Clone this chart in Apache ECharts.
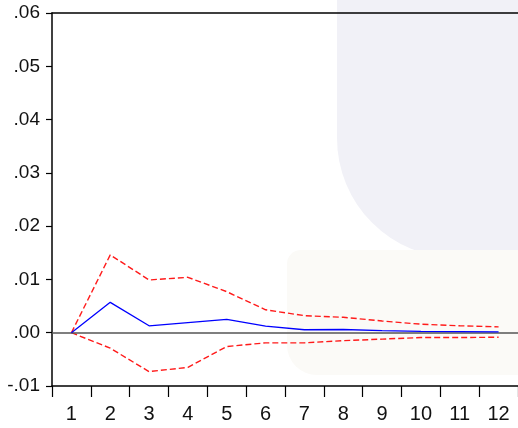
<!DOCTYPE html>
<html>
<head>
<meta charset="utf-8">
<style>
  html, body { margin: 0; padding: 0; background: #ffffff; }
  #chart { width: 518px; height: 428px; }
</style>
<script src="https://cdn.jsdelivr.net/npm/echarts@6/dist/echarts.min.js"></script>
</head>
<body>
<div id="chart"></div>
<script>
// Impulse response over 12 periods with +/- 2 S.E. bands
const periods = ['1', '2', '3', '4', '5', '6', '7', '8', '9', '10', '11', '12'];
const response = [0.0000, 0.0057, 0.0013, 0.0019, 0.0025, 0.00125, 0.00056, 0.0006, 0.0004, 0.00025, 0.0002, 0.00015];
const upperBand = [0.0000, 0.0146, 0.0099, 0.0104, 0.0077, 0.0043, 0.0032, 0.0029, 0.0022, 0.0016, 0.0013, 0.0011];
const lowerBand = [0.0000, -0.0029, -0.0073, -0.0065, -0.0026, -0.0019, -0.0019, -0.0015, -0.0012, -0.0009, -0.0009, -0.00085];
const yTicks = { min: -0.01, max: 0.06, step: 0.01 };

const labelFont = '"Liberation Sans", Arial, sans-serif';

function formatTick(v) {
  const r = Math.round(v * 100) / 100;
  if (r === 0) return '.00';
  const s = Math.abs(r).toFixed(2).replace(/^0/, '');
  return (r < 0 ? '-' : '') + s;
}

function bandSeries(values) {
  return {
    type: 'line',
    data: values,
    symbol: 'none',
    itemStyle: { color: '#ff0000' },
    lineStyle: { color: '#ff1a1a', width: 1.4, type: [6, 3] },
    z: 4
  };
}

const chart = echarts.init(document.getElementById('chart'), null, { renderer: 'canvas' });

chart.setOption({
  animation: false,
  backgroundColor: '#ffffff',
  graphic: [
    {
      type: 'rect', z: -10, silent: true,
      shape: { x: 337, y: 0, width: 200, height: 258, r: [0, 0, 0, 120] },
      style: { fill: '#f1f1f7' }
    },
    {
      type: 'rect', z: -9, silent: true,
      shape: { x: 287, y: 250, width: 260, height: 125, r: [14, 0, 0, 30] },
      style: { fill: '#fbfaf7' }
    }
  ],
  grid: { left: 52, top: 13, width: 468, height: 373, containLabel: false },
  xAxis: [
    {
      type: 'category',
      data: periods,
      boundaryGap: true,
      position: 'bottom',
      axisLine: { show: true, onZero: false, lineStyle: { color: '#000000', width: 1.5 } },
      axisTick: { show: true, inside: false, length: 11, alignWithLabel: false, lineStyle: { color: '#000000', width: 1.2 } },
      axisLabel: { color: '#111111', fontSize: 20, fontFamily: labelFont, margin: 18 },
      splitLine: { show: false }
    },
    {
      type: 'category',
      data: periods,
      position: 'top',
      axisLine: { show: true, onZero: false, lineStyle: { color: '#000000', width: 1.5 } },
      axisTick: { show: false },
      axisLabel: { show: false },
      splitLine: { show: false }
    }
  ],
  yAxis: {
    type: 'value',
    min: yTicks.min,
    max: yTicks.max,
    interval: yTicks.step,
    axisLine: { show: true, onZero: false, lineStyle: { color: '#000000', width: 1.5 } },
    axisTick: { show: true, inside: false, length: 6, lineStyle: { color: '#000000', width: 1.2 } },
    axisLabel: { color: '#111111', fontSize: 19, fontFamily: labelFont, margin: 12, formatter: formatTick },
    splitLine: { show: false }
  },
  series: [
    {
      type: 'line',
      data: response,
      symbol: 'none',
      itemStyle: { color: '#0000ff' },
      lineStyle: { color: '#0000ff', width: 1.3 },
      z: 5,
      markLine: {
        silent: true,
        symbol: 'none',
        label: { show: false },
        lineStyle: { color: '#555555', width: 1.5, type: 'solid' },
        data: [{ yAxis: 0 }]
      }
    },
    bandSeries(upperBand),
    bandSeries(lowerBand)
  ]
});
</script>
</body>
</html>
